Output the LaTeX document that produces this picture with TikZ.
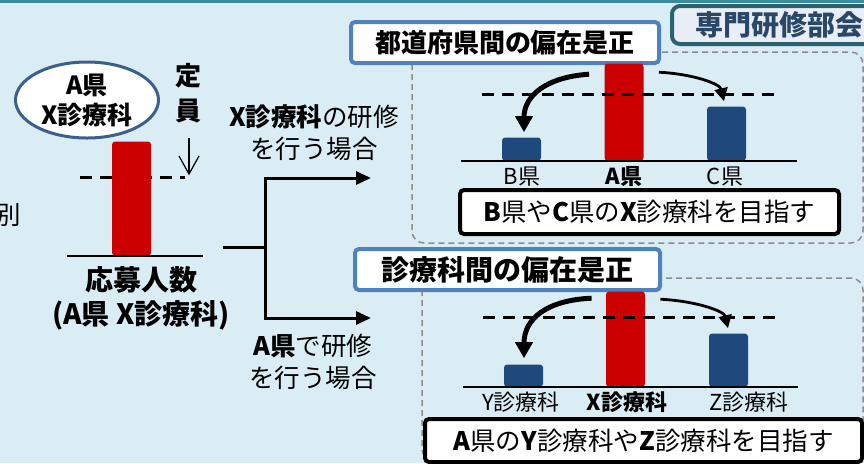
\documentclass[tikz,border=0pt]{standalone}
\usepackage{fontspec}
\setmainfont{Noto Sans CJK JP}
\usetikzlibrary{shapes.geometric,arrows.meta,calc}
\definecolor{bgblue}{HTML}{DBEDF4}
\definecolor{topteal}{HTML}{3A8B9C}
\definecolor{barred}{HTML}{CC0000}
\definecolor{barblue}{HTML}{1F497D}
\definecolor{titleblue}{HTML}{4F81BD}
\definecolor{ovalblue}{HTML}{3D5F8C}
\definecolor{tagteal}{HTML}{2C616E}
\definecolor{tagtext}{HTML}{2B4766}
\definecolor{tagfill}{HTML}{E9EEF6}
\definecolor{panelgrey}{HTML}{8C8C8C}
\newcommand{\txtbody}{\fontsize{12.75pt}{16pt}\selectfont}
\newcommand{\txtchart}{\fontsize{11pt}{13pt}\selectfont}
\newcommand{\txthead}{\fontsize{13pt}{16pt}\selectfont\bfseries}
\newcommand{\txtbig}{\fontsize{14pt}{17pt}\selectfont\bfseries}
\tikzset{
  redbar/.style={fill=barred, minimum width=19.5pt, inner sep=0pt, anchor=south, rounded corners=1.5pt},
  bluebar/.style={redbar, fill=barblue},
  quota/.style={line width=1.5pt, dash pattern=on 6pt off 4pt},
  floor/.style={line width=1pt},
  panel/.style={draw=panelgrey, line width=0.75pt, dash pattern=on 3pt off 2pt, rounded corners=6pt},
  headbox/.style={draw=titleblue, fill=white, line width=2pt, rounded corners=2pt, minimum height=20.5pt, inner sep=0pt},
  goalbox/.style={draw=black, fill=white, line width=2pt, rounded corners=2pt, minimum height=22pt, inner sep=0pt, font=\txtbody},
  bigmove/.style={line width=2.5pt, -{Triangle[length=8pt,width=8.5pt]}},
  smallmove/.style={line width=1.4pt, -{Triangle[length=6.5pt,width=6.5pt]}},
  flow/.style={line width=1.5pt},
  chartlabel/.style={font=\txtchart, inner sep=0pt}
}
\begin{document}
\begin{tikzpicture}[x=0.5pt,y=-0.5pt]
  \useasboundingbox (0,0) rectangle (864,463);
  \clip (0,0) rectangle (864,463);
  \fill[bgblue] (0,0) rectangle (864,463);
  \fill[topteal] (0,0) rectangle (864,3);

  % left side: applicants of one department
  \node[font=\txtbody, inner sep=0pt] (cut) at (8,215) {別};
  \node[ellipse, draw=ovalblue, fill=white, line width=1.5pt, minimum width=71.5pt, minimum height=38pt,
        inner sep=0pt, align=center, font=\fontsize{12.5pt}{15pt}\selectfont\bfseries] (dept) at (87,100) {A県\\X診療科};
  \node[align=center, font=\fontsize{13pt}{17.5pt}\selectfont\bfseries, inner sep=0pt] (cap) at (189,93) {定\\員};
  \draw[line width=0.6pt, -{Straight Barb[length=9pt,width=10pt,line width=0.6pt]}] ($(cap.south)+(0,15)$) -- ++(0,37);
  \draw[quota] (80,177) -- (185,177);
  \node[redbar, minimum height=57pt] (apply) at (131.5,256) {};
  \draw[floor] (67,256) -- (203,256);
  \node[align=center, font=\txtbig, inner sep=0pt] (count) at (141,298) {応募人数\\(A県 X診療科)};

  % the two ways
  \coordinate (stem) at (223,247);
  \coordinate (fork) at (265,247);
  \coordinate (upEnd) at (371,178);
  \coordinate (lowEnd) at (371,318);
  \draw[flow] (stem) -- (fork);
  \draw[flow, -{Triangle[length=7.5pt,width=6.5pt]}] (fork) |- (upEnd);
  \draw[flow, -{Triangle[length=7.5pt,width=6.5pt]}] (fork) |- (lowEnd);
  \node[align=center, font=\txtbody, inner sep=0pt] (caseX) at (314,133) {\textbf{X診療科}の研修\\を行う場合};
  \node[align=center, font=\txtbody, inner sep=0pt] (caseA) at (313,362) {\textbf{A県}で研修\\を行う場合};

  % upper panel: between prefectures
  \draw[panel] (412,52) rectangle (863,243);
  \node[headbox, minimum width=154pt, font=\txthead] (headP) at (505,42.5) {都道府県間の偏在是正};
  \node[draw=tagteal, fill=tagfill, text=tagtext, line width=2pt, rounded corners=4pt, minimum width=107pt,
        minimum height=19pt, inner sep=0pt, font=\txtbig] (board) at (779,25) {専門研修部会};
  \node[bluebar, minimum height=11.5pt] (barB) at (521.5,161) {};
  \node[redbar, minimum height=48.5pt] (barA) at (624,161) {};
  \node[bluebar, minimum height=27pt] (barC) at (726.5,161) {};
  \draw[floor] (461,161) -- (797,161);
  \draw[quota] (482,94) -- (775,94);
  \draw[bigmove] ($(barA.north west)+(-15,11)$) .. controls (546,77) and (524,96) .. ($(barB.north)+(2.5,-5)$);
  \draw[smallmove] ($(barA.north east)+(15,9)$) .. controls (694,74) and (720,84) .. ($(barC.north)+(-2.5,-5)$);
  \node[chartlabel] (labB) at (522,177) {B県};
  \node[chartlabel, font=\txtchart\bfseries] (labA) at (624,177) {A県};
  \node[chartlabel] (labC) at (725,177) {C県};
  \node[goalbox, minimum width=189.5pt] (goalP) at (649.5,212) {\textbf{B}県や\textbf{C}県の\textbf{X}診療科を目指す};

  % lower panel: between departments
  \draw[panel] (422,278) rectangle (863,461);
  \node[headbox, minimum width=152.5pt, font=\txtbig] (headD) at (507.5,269.5) {診療科間の偏在是正};
  \node[bluebar, minimum height=11pt] (barY) at (523.5,387) {};
  \node[redbar, minimum height=47.5pt] (barX) at (625.5,387) {};
  \node[bluebar, minimum height=26.5pt] (barZ) at (728.5,387) {};
  \draw[floor] (463,387) -- (798,387);
  \draw[quota] (483,317) -- (777,317);
  \draw[bigmove] ($(barX.north west)+(-14,7)$) .. controls (548,300) and (524,318) .. ($(barY.north)+(0.5,-6)$);
  \draw[smallmove] ($(barX.north east)+(15,8)$) .. controls (696,301) and (724,311) .. ($(barZ.north)+(-0.5,-5)$);
  \node[chartlabel] (labY) at (521,402) {Y診療科};
  \node[chartlabel, font=\txtchart\bfseries] (labX) at (627,402) {X診療科};
  \node[chartlabel] (labZ) at (749,402) {Z診療科};
  \node[goalbox, minimum width=218.5pt, minimum height=21.5pt] (goalD) at (643.5,440.5) {\textbf{A}県の\textbf{Y}診療科や\textbf{Z}診療科を目指す};
\end{tikzpicture}
\end{document}
